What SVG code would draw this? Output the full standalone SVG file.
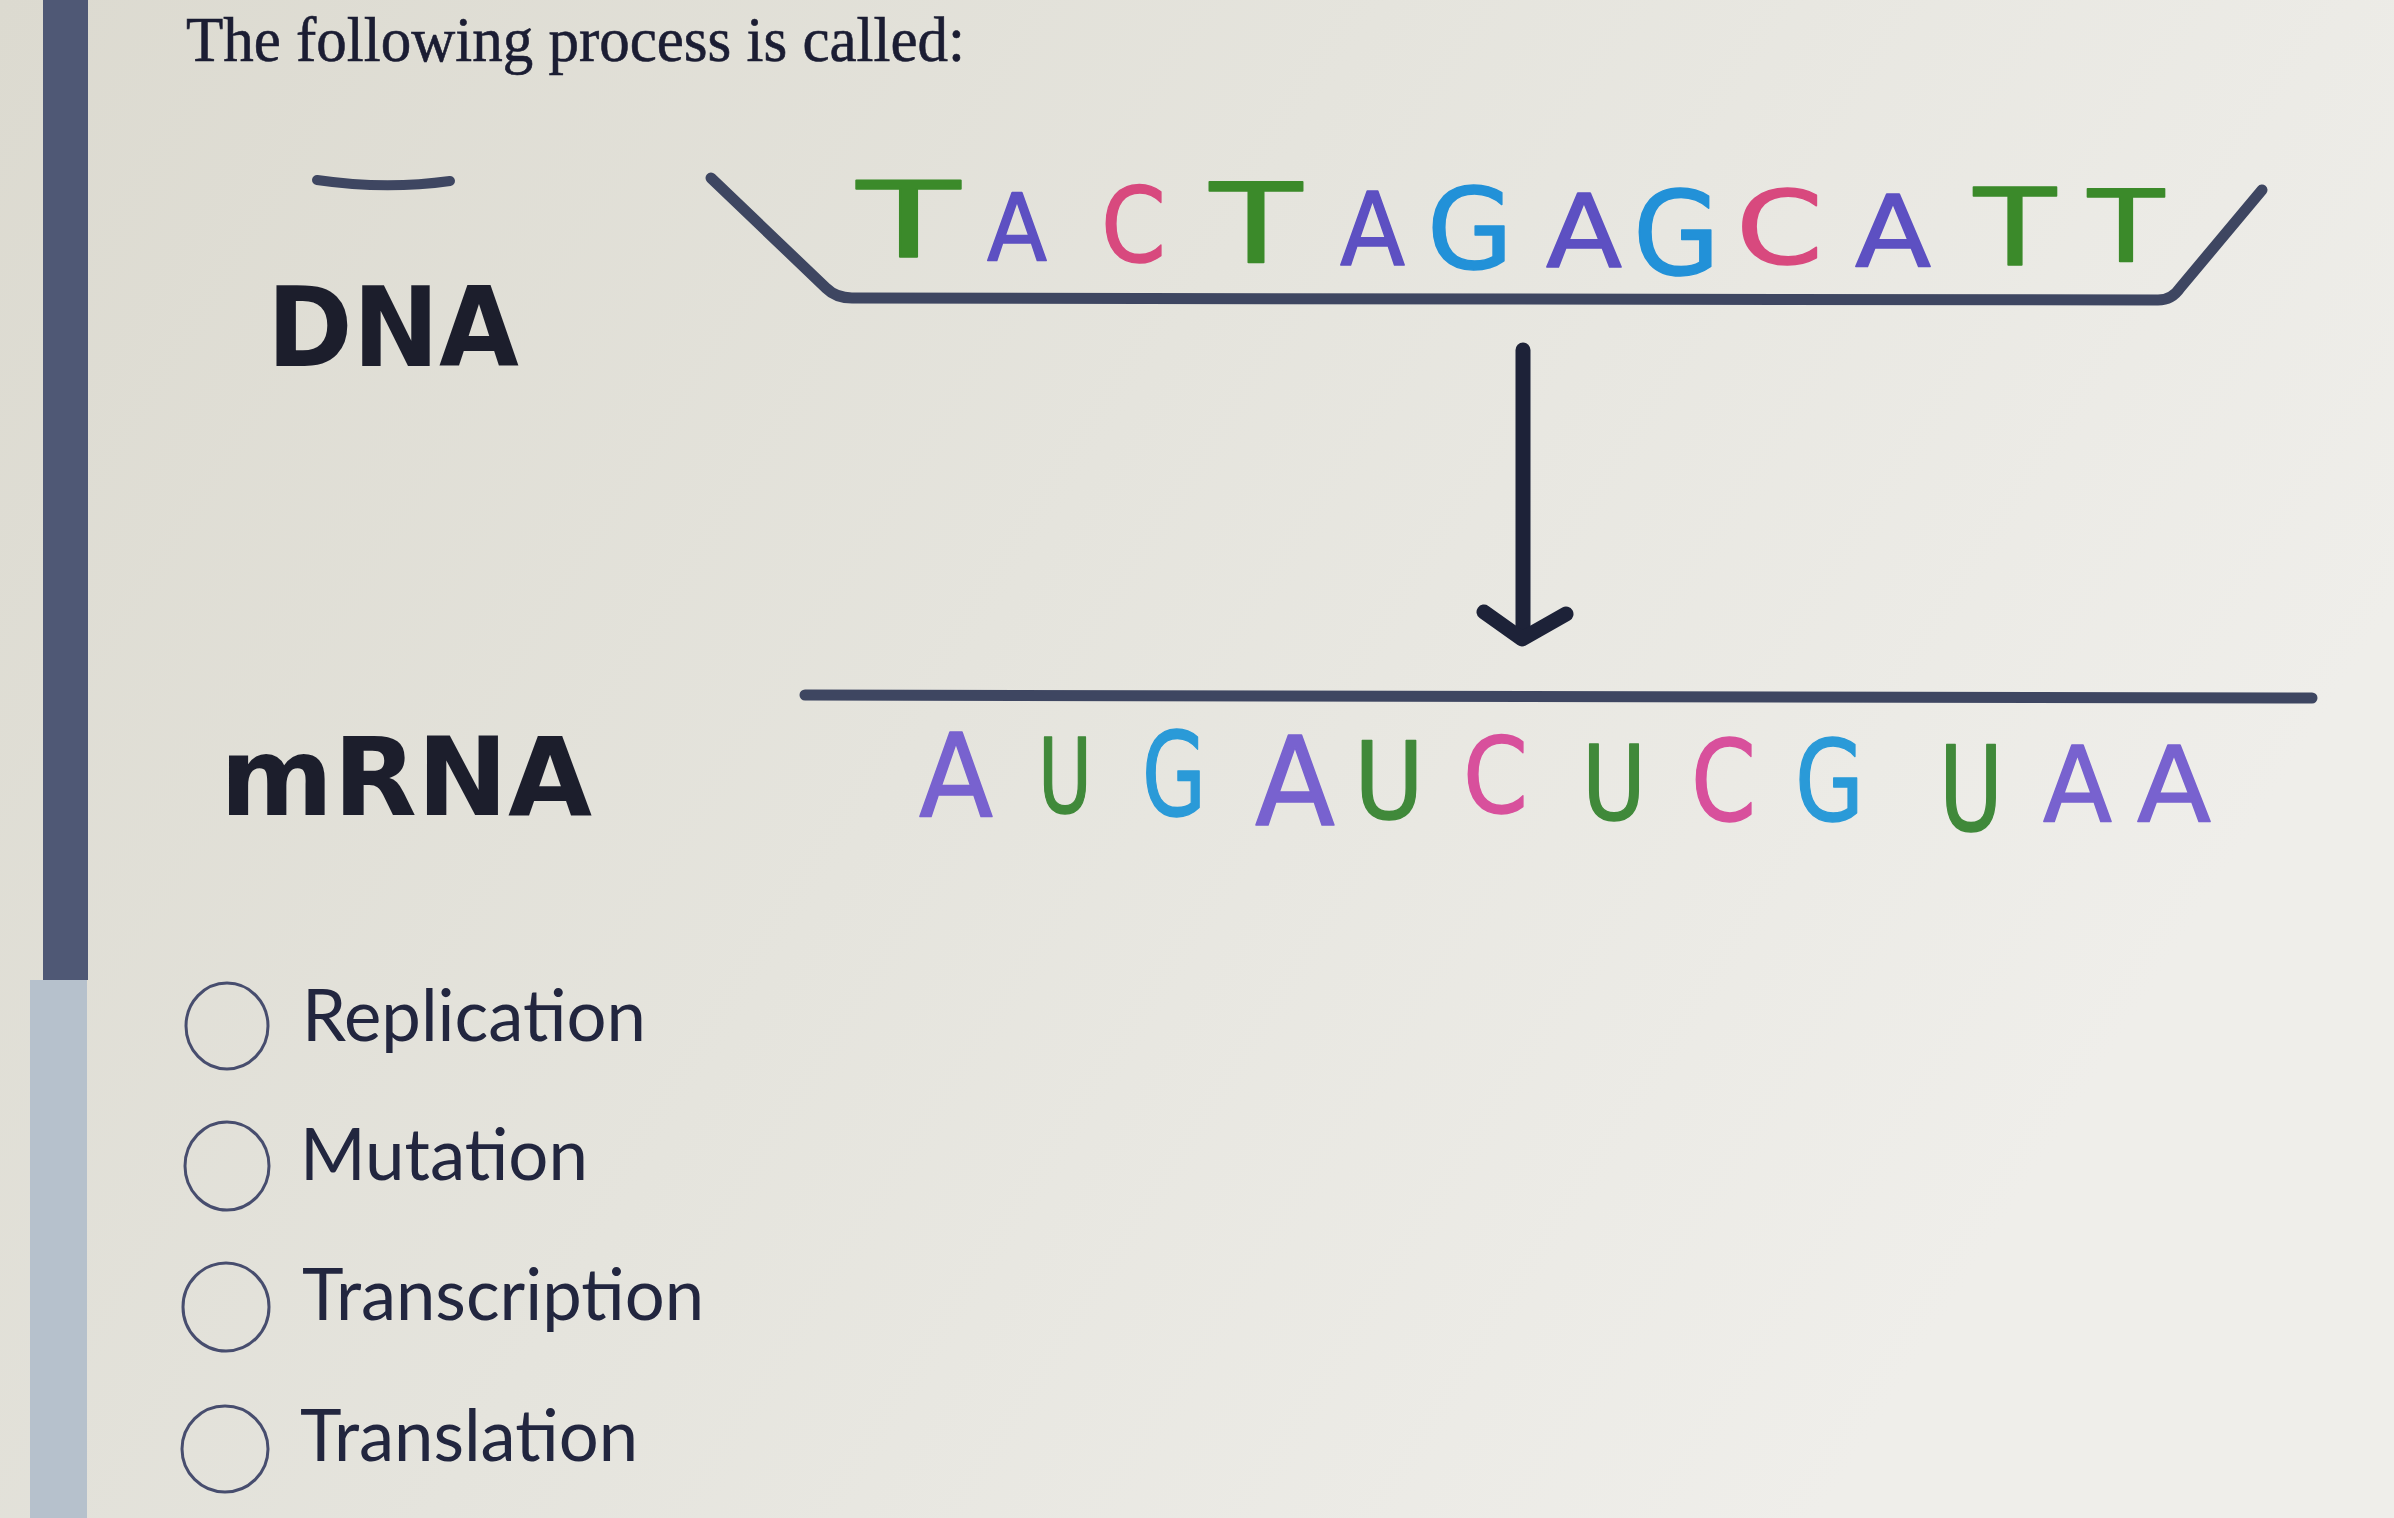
<svg xmlns="http://www.w3.org/2000/svg" width="2394" height="1518" viewBox="0 0 2394 1518">
  <defs>
    <linearGradient id="bg" x1="0" y1="0" x2="1" y2="0.4">
      <stop offset="0" stop-color="#dcdad0"/>
      <stop offset="0.5" stop-color="#e5e4dd"/>
      <stop offset="1" stop-color="#efeeea"/>
    </linearGradient>
    <style>
      .ink { fill: none; stroke: #3e4661; stroke-linecap: round; stroke-linejoin: round; }
      .hand { font-family: "DejaVu Sans", sans-serif; font-weight: bold; fill: #1c1e2c; }
      .base { font-family: "DejaVu Sans", sans-serif; stroke-width: 1.5; stroke-linejoin: round; }
      .t { fill: #3b8a2a; stroke: #3b8a2a; }
      .a { fill: #5d50c2; stroke: #5d50c2; }
      .c { fill: #d8497e; stroke: #d8497e; }
      .g { fill: #2291d8; stroke: #2291d8; }
      .ra { fill: #7862cf; stroke: #7862cf; }
      .ru { fill: #40893a; stroke: #40893a; }
      .rg { fill: #2a9ad8; stroke: #2a9ad8; }
      .rc { fill: #d8509c; stroke: #d8509c; }
      .radio { fill: none; stroke: #474d6e; stroke-width: 3; }
      .opt { font-family: Lato, "Liberation Sans", sans-serif; font-size: 72px; fill: #22263f; }
    </style>
  </defs>

  <rect width="2394" height="1518" fill="url(#bg)"/>

  <!-- left sidebar bar -->
  <rect x="43" y="0" width="45" height="980" fill="#4f5875"/>
  <rect x="30" y="980" width="57" height="538" fill="#b6c1cc"/>

  <!-- title -->
  <text x="186" y="61" font-family="Liberation Serif, serif" font-size="64" fill="#1b1d33" stroke="#1b1d33" stroke-width="0.6" textLength="779" lengthAdjust="spacingAndGlyphs">The following process is called:</text>

  <!-- labels -->
  <g id="dna-label">
    <path class="ink" d="M317 180 Q385 190 450 181" stroke="#2a2f48" stroke-width="10"/>
    <text class="hand" x="267" y="366" font-size="110" textLength="252" lengthAdjust="spacingAndGlyphs">DNA</text>
  </g>
  <g id="mrna-label">
    <text class="hand" x="220" y="815" font-size="108" textLength="372" lengthAdjust="spacingAndGlyphs">mRNA</text>
  </g>

  <!-- DNA strand -->
  <g id="dna-strand">
    <path class="ink" stroke-width="11" d="M711 178 L826 288 Q836 298 852 298 L2158 300 Q2172 300 2180 288 L2262 190"/>
    <g class="base">
      <text class="t" x="857" y="257" font-size="106" textLength="103" lengthAdjust="spacingAndGlyphs">T</text>
      <text class="a" x="987" y="260" font-size="92" textLength="60" lengthAdjust="spacingAndGlyphs">A</text>
      <text class="c" x="1101" y="262" font-size="104" textLength="65" lengthAdjust="spacingAndGlyphs">C</text>
      <text class="t" x="1210" y="263" font-size="110" textLength="92" lengthAdjust="spacingAndGlyphs">T</text>
      <text class="a" x="1340" y="265" font-size="102" textLength="65" lengthAdjust="spacingAndGlyphs">A</text>
      <text class="g" x="1427" y="268" font-size="112" textLength="86" lengthAdjust="spacingAndGlyphs">G</text>
      <text class="a" x="1546" y="267" font-size="102" textLength="76" lengthAdjust="spacingAndGlyphs">A</text>
      <text class="g" x="1633" y="274" font-size="116" textLength="87" lengthAdjust="spacingAndGlyphs">G</text>
      <text class="c" x="1736" y="264" font-size="102" textLength="87" lengthAdjust="spacingAndGlyphs">C</text>
      <text class="a" x="1855" y="267" font-size="99" textLength="76" lengthAdjust="spacingAndGlyphs">A</text>
      <text class="t" x="1974" y="265" font-size="107" textLength="82" lengthAdjust="spacingAndGlyphs">T</text>
      <text class="t" x="2088" y="262" font-size="99" textLength="76" lengthAdjust="spacingAndGlyphs">T</text>
    </g>
  </g>

  <!-- connector -->
  <g id="connectors">
    <path d="M1523 350 V632" fill="none" stroke="#1d2238" stroke-width="15" stroke-linecap="round"/>
    <path d="M1484 612 L1522 639 L1566 614" fill="none" stroke="#1d2238" stroke-width="15" stroke-linecap="round" stroke-linejoin="round"/>
  </g>

  <!-- mRNA strand -->
  <g id="mrna-strand">
    <path class="ink" stroke-width="11" d="M805 695 L2312 698"/>
    <g class="base">
      <text class="ra" x="919" y="817" font-size="115" textLength="74" lengthAdjust="spacingAndGlyphs">A</text>
      <text class="ru" x="1038" y="813" font-size="104" textLength="54" lengthAdjust="spacingAndGlyphs">U</text>
      <text class="rg" x="1142" y="815" font-size="116" textLength="64" lengthAdjust="spacingAndGlyphs">G</text>
      <text class="ra" x="1255" y="825" font-size="123" textLength="80" lengthAdjust="spacingAndGlyphs">A</text>
      <text class="ru" x="1354" y="818" font-size="107" textLength="70" lengthAdjust="spacingAndGlyphs">U</text>
      <text class="rc" x="1463" y="813" font-size="106" textLength="65" lengthAdjust="spacingAndGlyphs">C</text>
      <text class="ru" x="1582" y="820" font-size="103" textLength="64" lengthAdjust="spacingAndGlyphs">U</text>
      <text class="rc" x="1691" y="820" font-size="113" textLength="65" lengthAdjust="spacingAndGlyphs">C</text>
      <text class="rg" x="1795" y="820" font-size="113" textLength="69" lengthAdjust="spacingAndGlyphs">G</text>
      <text class="ru" x="1939" y="830" font-size="117" textLength="64" lengthAdjust="spacingAndGlyphs">U</text>
      <text class="ra" x="2043" y="822" font-size="105" textLength="69" lengthAdjust="spacingAndGlyphs">A</text>
      <text class="ra" x="2137" y="822" font-size="105" textLength="74" lengthAdjust="spacingAndGlyphs">A</text>
    </g>
  </g>

  <!-- answer options -->
  <g id="opt-replication">
    <ellipse class="radio" cx="227" cy="1026" rx="41" ry="43"/>
    <text class="opt" x="302" y="1041" textLength="344" lengthAdjust="spacingAndGlyphs">Replication</text>
  </g>
  <g id="opt-mutation">
    <ellipse class="radio" cx="227" cy="1166" rx="42" ry="44"/>
    <text class="opt" x="300" y="1180" textLength="288" lengthAdjust="spacingAndGlyphs">Mutation</text>
  </g>
  <g id="opt-transcription">
    <ellipse class="radio" cx="226" cy="1307" rx="43" ry="44"/>
    <text class="opt" x="302" y="1320" textLength="402" lengthAdjust="spacingAndGlyphs">Transcription</text>
  </g>
  <g id="opt-translation">
    <ellipse class="radio" cx="225" cy="1449" rx="43" ry="43"/>
    <text class="opt" x="300" y="1461" textLength="338" lengthAdjust="spacingAndGlyphs">Translation</text>
  </g>
</svg>
